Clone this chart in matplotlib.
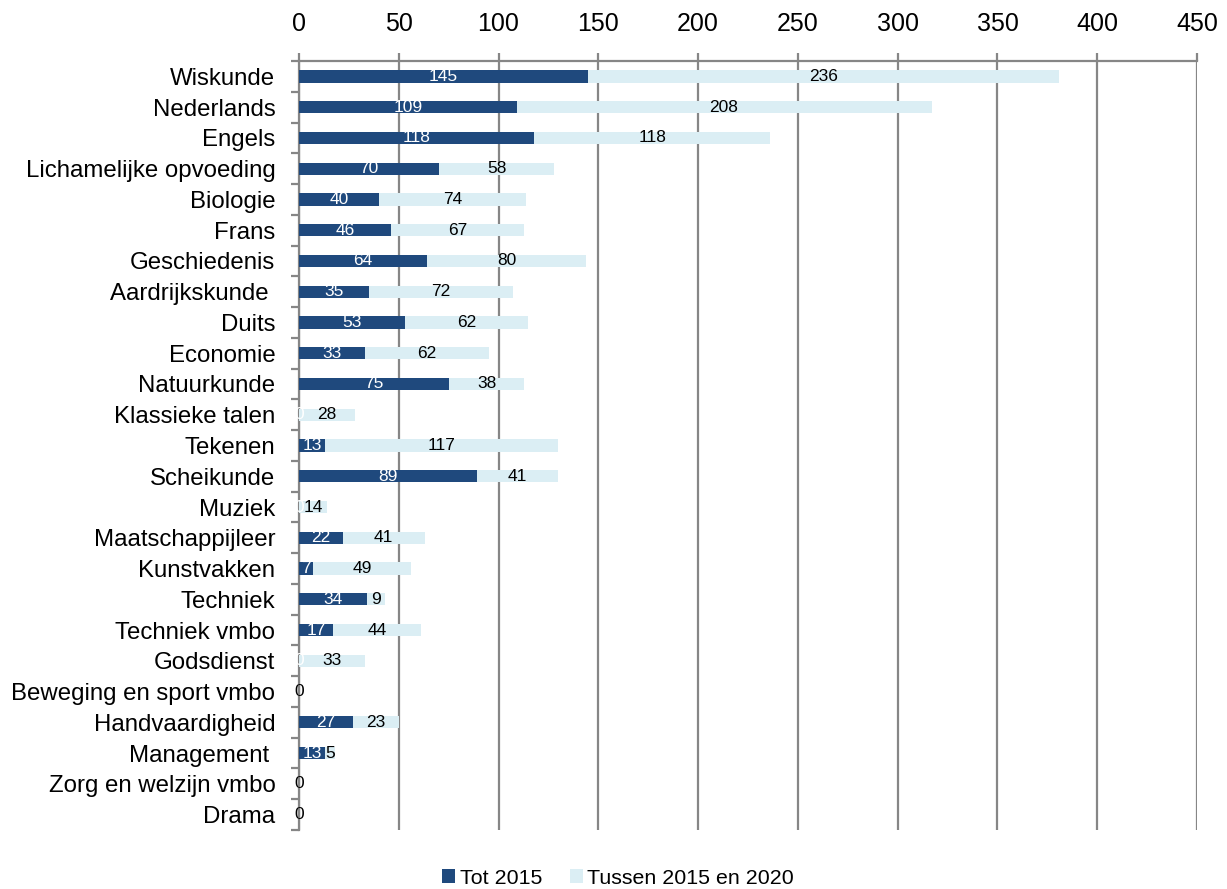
import matplotlib
matplotlib.use("Agg")
import matplotlib.pyplot as plt
import numpy as np
from matplotlib.ticker import FixedLocator

plt.rcParams['font.family'] = ['Liberation Sans', 'DejaVu Sans']

categories = ["Wiskunde", "Nederlands", "Engels", "Lichamelijke opvoeding", "Biologie",
              "Frans", "Geschiedenis", "Aardrijkskunde ", "Duits", "Economie",
              "Natuurkunde", "Klassieke talen", "Tekenen", "Scheikunde", "Muziek",
              "Maatschappijleer", "Kunstvakken", "Techniek", "Techniek vmbo", "Godsdienst",
              "Beweging en sport vmbo", "Handvaardigheid", "Management ",
              "Zorg en welzijn vmbo", "Drama"]
tot_2015 = [145, 109, 118, 70, 40, 46, 64, 35, 53, 33, 75, 0, 13, 89, 0, 22, 7, 34, 17, 0,
            0, 27, 13, 0, 0]
tussen = [236, 208, 118, 58, 74, 67, 80, 72, 62, 62, 38, 28, 117, 41, 14, 41, 49, 9, 44, 33,
          0, 23, 5, 0, 0]
series_names = ["Tot 2015", "Tussen 2015 en 2020"]
xticks = [0, 50, 100, 150, 200, 250, 300, 350, 400, 450]

dark = "#1F497D"
light = "#DBEEF4"
grid_c = "#868686"

fig = plt.figure(figsize=(12.27, 8.89), dpi=100)
ax = fig.add_axes([299/1227, 1-830/889, (1197-299)/1227, (830-61)/889])

y = np.arange(len(categories))
h = 0.4
b1 = ax.barh(y, tot_2015, height=h, color=dark, label=series_names[0], zorder=3)
b2 = ax.barh(y, tussen, left=tot_2015, height=h, color=light, label=series_names[1], zorder=3)

for yi, a, b in zip(y, tot_2015, tussen):
    ax.text(a/2, yi, str(a), ha='center', va='center', color='white', fontsize=12.5, zorder=5)
    ax.text(a + b/2, yi, str(b), ha='center', va='center', color='black', fontsize=12.5, zorder=5)

ax.set_xlim(0, 450)
ax.set_ylim(len(categories)-0.5, -0.5)
ax.xaxis.set_major_locator(FixedLocator(xticks))
ax.xaxis.tick_top()
ax.xaxis.set_label_position('top')
ax.grid(axis='x', color=grid_c, linewidth=1.6, zorder=0)
ax.set_axisbelow(True)

ax.set_yticks(y)
ax.set_yticklabels(categories, fontsize=17.3)
ax.yaxis.set_minor_locator(FixedLocator(np.arange(-0.5, len(categories), 1)))
ax.tick_params(axis='y', which='major', length=0, pad=17)
ax.tick_params(axis='y', which='minor', length=6, width=1.6, color=grid_c)
ax.tick_params(axis='x', which='major', labelsize=18, length=6, width=1.6, color=grid_c, pad=12)

for s in ['right', 'bottom']:
    ax.spines[s].set_visible(False)
for s in ['top', 'left']:
    ax.spines[s].set_color(grid_c)
    ax.spines[s].set_linewidth(1.6)

leg = fig.legend(handles=[b1, b2], labels=series_names, loc='center', ncol=2,
                 bbox_to_anchor=(618/1227, 1-878/889), frameon=False, fontsize=15.4,
                 handlelength=0.6, handleheight=0.6, handletextpad=0.2, columnspacing=1.3)

fig.savefig("out.png", dpi=100)
